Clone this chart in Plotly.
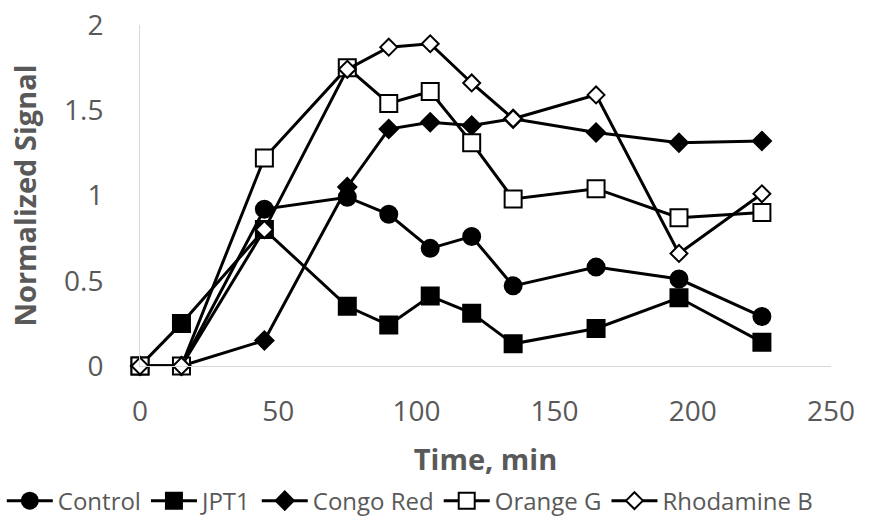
import plotly.graph_objects as go

time_min = [0, 15, 45, 75, 90, 105, 120, 135, 165, 195, 225]

control = [0, 0, 0.92, 0.99, 0.89, 0.69, 0.76, 0.47, 0.58, 0.51, 0.29]
jpt1 = [0, 0.25, 0.80, 0.35, 0.24, 0.41, 0.31, 0.13, 0.22, 0.40, 0.14]
congo_red = [0, 0, 0.15, 1.05, 1.39, 1.43, 1.41, 1.45, 1.37, 1.31, 1.32]
orange_g = [0, 0, 1.22, 1.75, 1.54, 1.61, 1.31, 0.98, 1.04, 0.87, 0.90]
rhodamine_b = [0, 0, 0.80, 1.74, 1.87, 1.89, 1.66, 1.45, 1.59, 0.66, 1.01]

x_ticks = [0, 50, 100, 150, 200, 250]
y_ticks = [0, 0.5, 1, 1.5, 2]
y_tick_text = ["0", "0.5", "1", "1.5", "2"]

series = [
    ("Control", control, "circle", 17, "black"),
    ("JPT1", jpt1, "square", 17, "black"),
    ("Congo Red", congo_red, "diamond", 14, "black"),
    ("Orange G", orange_g, "square", 17, "white"),
    ("Rhodamine B", rhodamine_b, "diamond", 13, "white"),
]

FONT = "Open Sans"
GREY = "#595959"

fig = go.Figure()
for name, vals, sym, size, fill in series:
    fig.add_trace(go.Scatter(
        x=time_min, y=vals, name=name, mode="lines+markers",
        line=dict(color="black", width=3),
        marker=dict(symbol=sym, size=size, color=fill,
                    line=dict(color="black", width=2)),
        cliponaxis=False,
    ))

fig.update_layout(
    width=877, height=516,
    margin=dict(l=140, r=46, t=25, b=150, autoexpand=False),
    paper_bgcolor="white", plot_bgcolor="white",
    font=dict(family=FONT, color=GREY),
    showlegend=True,
    legend=dict(orientation="h", x=-0.2, xanchor="left",
                y=-0.33, yanchor="top", font=dict(size=24, color=GREY),
                itemwidth=46, tracegroupgap=0),
    xaxis=dict(range=[0, 250], tickvals=x_ticks, showgrid=False,
               zeroline=False, showline=True, linecolor="#d9d9d9",
               linewidth=1, ticks="", tickfont=dict(size=28, color=GREY),
               ticklabelstandoff=20, automargin=False,
               title=dict(text="<b>Time, min</b>", font=dict(size=29, color=GREY),
                          standoff=22)),
    yaxis=dict(range=[0, 2], tickvals=y_ticks, ticktext=y_tick_text,
               showgrid=False, zeroline=False, showline=True,
               linecolor="#d9d9d9", linewidth=1, ticks="",
               tickfont=dict(size=28, color=GREY), ticklabelstandoff=30,
               automargin=False,
               title=dict(text="<b>Normalized Signal</b>",
                          font=dict(size=29, color=GREY), standoff=18)),
)

fig.write_html("out.html")
